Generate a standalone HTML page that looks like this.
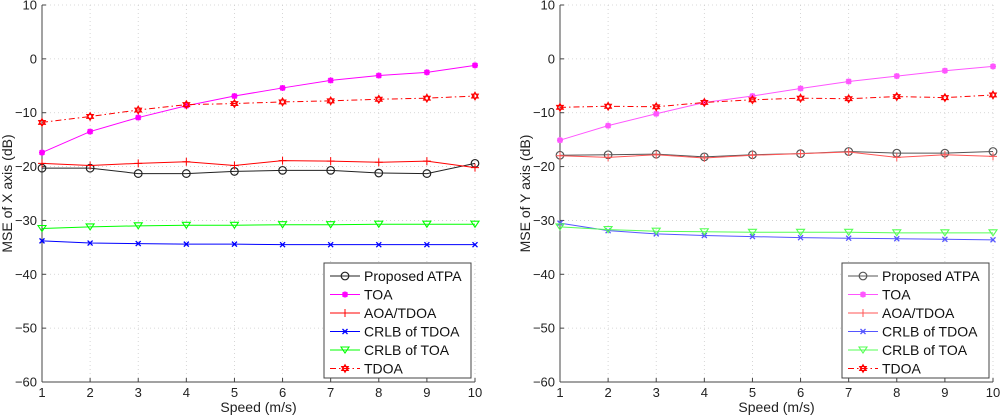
<!DOCTYPE html>
<html><head><meta charset="utf-8"><style>
body{margin:0;background:#fff;}
svg{display:block;font-family:"Liberation Sans",sans-serif;}
</style></head><body>
<svg id="c" width="1000" height="417"></svg>
<script>
const xs=[1,2,3,4,5,6,7,8,9,10];
const yTicks=[10,0,-10,-20,-30,-40,-50,-60];
const seriesNames=["Proposed ATPA","TOA","AOA/TDOA","CRLB of TDOA","CRLB of TOA","TDOA"];
const L_atpa=[-20.3,-20.3,-21.3,-21.3,-20.9,-20.7,-20.7,-21.2,-21.3,-19.4];
const L_toa=[-17.4,-13.5,-10.9,-8.7,-6.9,-5.4,-4.0,-3.1,-2.5,-1.2];
const L_aoa=[-19.4,-19.8,-19.4,-19.1,-19.8,-18.9,-19.0,-19.2,-19.0,-20.2];
const L_crlbTdoa=[-33.8,-34.2,-34.3,-34.4,-34.4,-34.5,-34.5,-34.5,-34.5,-34.5];
const L_crlbToa=[-31.5,-31.2,-31.0,-30.9,-30.9,-30.8,-30.8,-30.7,-30.7,-30.7];
const L_tdoa=[-11.8,-10.7,-9.5,-8.5,-8.3,-8.0,-7.8,-7.5,-7.3,-6.9];
const R_atpa=[-17.9,-17.8,-17.7,-18.2,-17.8,-17.6,-17.2,-17.5,-17.5,-17.2];
const R_toa=[-15.1,-12.4,-10.2,-8.1,-6.9,-5.5,-4.2,-3.2,-2.2,-1.4];
const R_aoa=[-18.0,-18.3,-17.8,-18.4,-17.9,-17.6,-17.3,-18.3,-17.8,-18.1];
const R_crlbTdoa=[-30.5,-31.9,-32.5,-32.8,-33.0,-33.2,-33.3,-33.4,-33.5,-33.6];
const R_crlbToa=[-31.2,-31.7,-32.0,-32.1,-32.2,-32.2,-32.2,-32.3,-32.3,-32.3];
const R_tdoa=[-9.0,-8.8,-8.9,-8.1,-7.6,-7.3,-7.4,-7.0,-7.2,-6.7];

const NS="http://www.w3.org/2000/svg";
const svg=document.getElementById('c');
function mk(t,a,p){const e=document.createElementNS(NS,t);for(const k in a)e.setAttribute(k,a[k]);(p||svg).appendChild(e);return e;}

function marker(g,type,x,y,col){
  let e;
  if(type==='o'){e=mk('circle',{cx:x,cy:y,r:3.8,fill:'none',stroke:col,'stroke-width':1.2},g);}
  else if(type==='*'){e=mk('path',{d:`M${x-3},${y}h6M${x},${y-3}v6M${x-2.3},${y-2.3}l4.6,4.6M${x-2.3},${y+2.3}l4.6,-4.6`,stroke:col,'stroke-width':1.8,fill:'none'},g);}
  else if(type==='+'){e=mk('path',{d:`M${x-4},${y}h8M${x},${y-4}v8`,stroke:col,'stroke-width':1,fill:'none'},g);}
  else if(type==='x'){e=mk('path',{d:`M${x-2.5},${y-2.5}l5,5M${x-2.5},${y+2.5}l5,-5`,stroke:col,'stroke-width':1.3,fill:'none'},g);}
  else if(type==='v'){e=mk('path',{d:`M${x-4},${y-3}h8l-4,6z`,stroke:col,'stroke-width':1.1,fill:'none'},g);}
  else {e=mk('path',{d:`M${x},${y-3.8}L${x+3.3},${y+1.9}H${x-3.3}ZM${x},${y+3.8}L${x+3.3},${y-1.9}H${x-3.3}Z`,stroke:col,'stroke-width':1.1,fill:'none'},g);}
  
  
}

function panel(x0,x1,ylab,data,faded,legX,pname){
  const y0=5,y1=382;
  const sx=v=>x0+(v-1)*(x1-x0)/9;
  const sy=v=>y0+(10-v)*(y1-y0)/70;
  const g=mk('g',{});
  
  
  mk('rect',{x:x0,y:y0,width:x1-x0,height:y1-y0,fill:'#fff',stroke:'none'},g);
  xs.forEach(v=>{mk('line',{x1:sx(v),x2:sx(v),y1:y0,y2:y1,stroke:'#ccc','stroke-dasharray':'1,3','stroke-width':0.8},g);});
  yTicks.forEach(v=>{mk('line',{x1:x0,x2:x1,y1:sy(v),y2:sy(v),stroke:'#ccc','stroke-dasharray':'1,3','stroke-width':0.8},g);});
  mk('line',{x1:x0,x2:x0,y1:y0,y2:y1,stroke:'#444','stroke-width':1},g);
  mk('line',{x1:x0,x2:x1,y1:y1,y2:y1,stroke:'#444','stroke-width':1},g);
  xs.forEach(v=>{
    mk('line',{x1:sx(v),x2:sx(v),y1:y1,y2:y1-4,stroke:'#444'},g);
    const t=mk('text',{x:sx(v),y:y1+15,'text-anchor':'middle','font-size':13,fill:'#222'},g);t.textContent=v;
    
  });
  yTicks.forEach(v=>{
    mk('line',{x1:x0,x2:x0+4,y1:sy(v),y2:sy(v),stroke:'#444'},g);
    const t=mk('text',{x:x0-5,y:sy(v)+4.5,'text-anchor':'end','font-size':13,fill:'#222'},g);t.textContent=v<0?'\u2212'+(-v):v;
    
  });
  const xt=mk('text',{x:(x0+x1)/2,y:412,'text-anchor':'middle','font-size':14,fill:'#222'},g);xt.textContent='Speed (m/s)';
  
  const yt=mk('text',{x:0,y:0,'text-anchor':'middle','font-size':14,fill:'#222',transform:`translate(${x0-30},${(y0+y1)/2}) rotate(-90)`},g);yt.textContent=ylab;
  
  const styles=faded?[
    ['#555','o',''],['#f5f','*',''],['#f55','+',''],['#55f','x',''],['#5f5','v',''],['#f00','h','6,3,1.5,3']
  ]:[
    ['#222','o',''],['#f0f','*',''],['#f00','+',''],['#00f','x',''],['#0f0','v',''],['#f00','h','6,3,1.5,3']
  ];
  data.forEach((arr,i)=>{
    const [col,mt,da]=styles[i];
    const sg=mk('g',{},g);
    
    
    mk('polyline',{points:arr.map((v,j)=>sx(xs[j])+','+sy(v)).join(' '),fill:'none',stroke:col,'stroke-width':1,'stroke-dasharray':da},sg);
    arr.forEach((v,j)=>marker(sg,mt,sx(xs[j]),sy(v),col));
  });
  const lg=mk('g',{},g);
  
  mk('rect',{x:legX,y:263,width:147,height:115,fill:'#fff',stroke:'#444','stroke-width':1},lg);
  seriesNames.forEach((n,i)=>{
    const [col,mt,da]=styles[i];
    const yy=276+i*18.5;
    const eg=mk('g',{},lg);
    
    mk('line',{x1:legX+6,x2:legX+36,y1:yy,y2:yy,stroke:col,'stroke-dasharray':da},eg);
    marker(eg,mt,legX+21,yy,col);
    const t=mk('text',{x:legX+40,y:yy+5,'font-size':14,fill:'#111'},eg);t.textContent=n;
  });
}
panel(42,475,'MSE of X axis (dB)',[L_atpa,L_toa,L_aoa,L_crlbTdoa,L_crlbToa,L_tdoa],false,324,'left-panel');
panel(560,993,'MSE of Y axis (dB)',[R_atpa,R_toa,R_aoa,R_crlbTdoa,R_crlbToa,R_tdoa],true,842,'right-panel');
</script>
</body></html>
